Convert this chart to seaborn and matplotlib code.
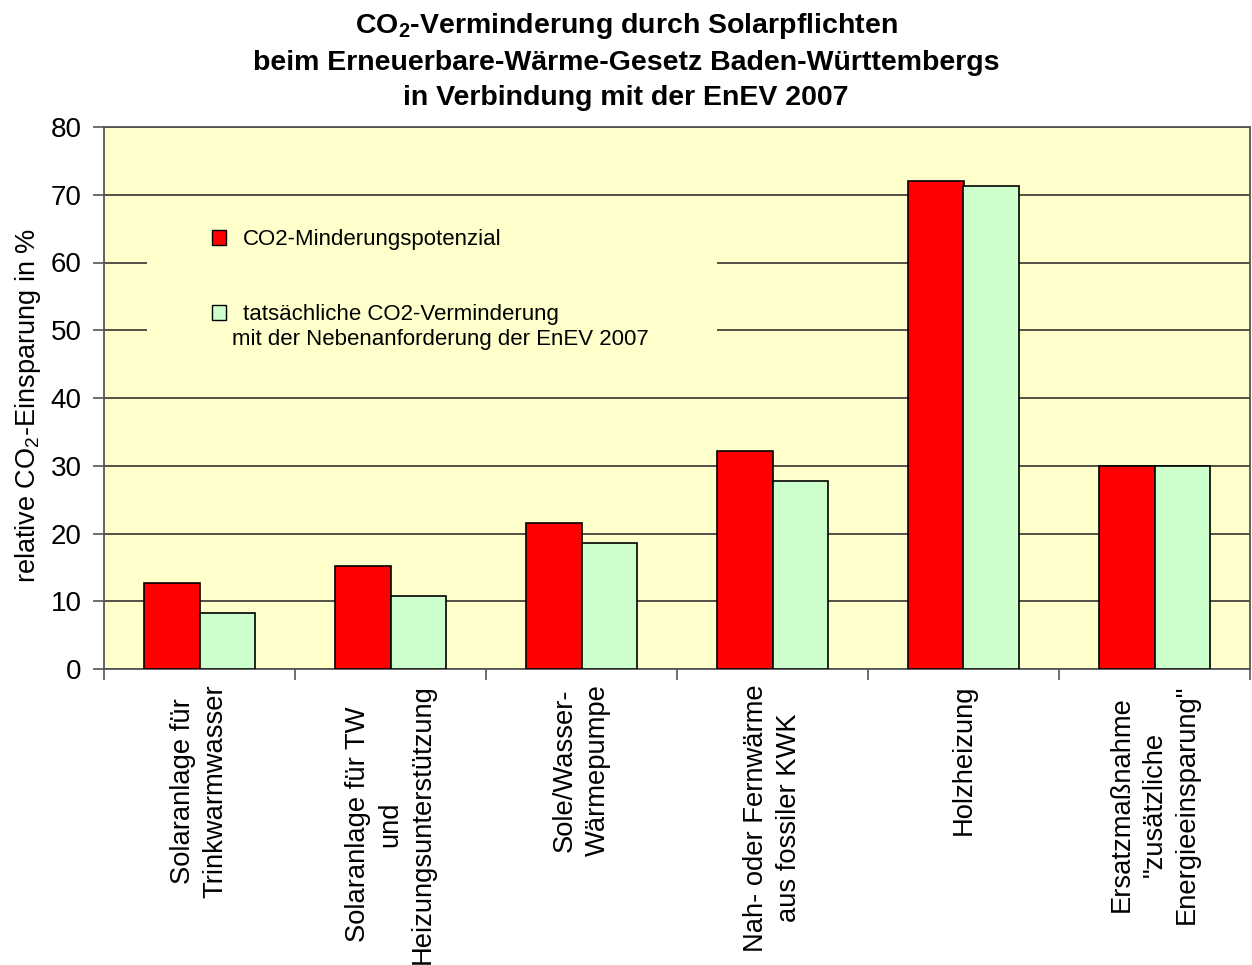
import pandas as pd
import matplotlib.pyplot as plt
import seaborn as sns
import numpy as np
from matplotlib.patches import Patch, Rectangle

# data
categories = ['Solaranlage für\nTrinkwarmwasser',
              'Solaranlage für TW\nund\nHeizungsunterstützung',
              'Sole/Wasser-\nWärmepumpe',
              'Nah- oder Fernwärme\naus fossiler KWK',
              'Holzheizung',
              'Ersatzmaßnahme\n"zusätzliche\nEnergieeinsparung"']
potenzial = [12.7, 15.2, 21.6, 32.2, 72.0, 30.0]
tatsaechlich = [8.3, 10.8, 18.6, 27.7, 71.3, 30.0]
series = ['CO2-Minderungspotenzial', 'tatsächliche CO2-Verminderung']
colors = ['#FF0000', '#CCFFCC']

df = pd.DataFrame({
    'Kategorie': categories * 2,
    'Wert': potenzial + tatsaechlich,
    'Reihe': [series[0]] * 6 + [series[1]] * 6,
})

sns.set_style('white')
plt.rcParams['font.family'] = ['Liberation Sans', 'DejaVu Sans']
plt.rcParams['mathtext.fontset'] = 'custom'
plt.rcParams['mathtext.rm'] = 'Liberation Sans'
plt.rcParams['mathtext.default'] = 'regular'
plt.rcParams['text.color'] = 'black'
plt.rcParams['axes.labelcolor'] = 'black'
plt.rcParams['xtick.color'] = 'black'
plt.rcParams['ytick.color'] = 'black'

fig = plt.figure(figsize=(12.52, 9.65), dpi=100)
ax = fig.add_axes([104/1252, 1 - 669/965, 1146/1252, 542/965])
ax.set_facecolor('#FFFFCC')

sns.barplot(data=df, x='Kategorie', y='Wert', hue='Reihe', palette=colors,
            saturation=1, width=0.58, gap=0, edgecolor='black', linewidth=1.2,
            legend=False, ax=ax, zorder=3)

# axes styling
ax.set_ylim(0, 80)
ax.set_xlim(-0.5, 5.5)
ax.set_yticks(np.arange(0, 81, 10))
ax.yaxis.grid(True, color='#222222', linewidth=1.1, zorder=0)
ax.set_axisbelow(True)
for s in ax.spines.values():
    s.set_color('#555555')
    s.set_linewidth(1.3)

ax.tick_params(axis='y', direction='out', length=8, width=1.2, color='#555555',
               labelsize=20, pad=8, left=True)
ax.set_xticks(range(6))
ax.set_xticklabels(categories, rotation=90, fontsize=19.7, va='top', ha='center',
                   linespacing=1.33)
ax.tick_params(axis='x', length=0, pad=11)
ax.set_xticks(np.arange(-0.5, 6, 1), minor=True)
ax.tick_params(axis='x', which='minor', direction='out', length=8, width=1.2,
               color='#555555', bottom=True)
ax.set_xlabel('')
ax.set_ylabel('relative CO$_2$-Einsparung in %', fontsize=19.5)
ax.yaxis.set_label_coords(-0.053, 0.487)

# legend area (box hides the grid like in the original)
ax.add_patch(Rectangle((0.0375, 0.552), 0.4975, 0.295, transform=ax.transAxes,
                       facecolor='#FFFFCC', edgecolor='none', zorder=4))
handles = [Patch(facecolor=c, edgecolor='black', linewidth=1) for c in colors]
leg = ax.legend(handles, series, loc='upper left',
                bbox_to_anchor=((212 - 104) / 1146, (669 - 229) / 542),
                frameon=False, fontsize=16, handlelength=0.62, handleheight=0.66,
                handletextpad=0.78, labelspacing=2.45, borderpad=0, borderaxespad=0)
leg.set_zorder(6)
ax.text((232 - 104) / 1146, (669 - 340) / 542, 'mit der Nebenanforderung der EnEV 2007',
        transform=ax.transAxes, fontsize=16, va='center', ha='left', zorder=7)

fig.text(0.5, 0.9886,
         'CO$_2$-Verminderung durch Solarpflichten\n'
         'beim Erneuerbare-Wärme-Gesetz Baden-Württembergs\n'
         'in Verbindung mit der EnEV 2007',
         ha='center', va='top', fontsize=20.5, fontweight='bold', linespacing=1.45)

plt.savefig('out.png', dpi=100)
